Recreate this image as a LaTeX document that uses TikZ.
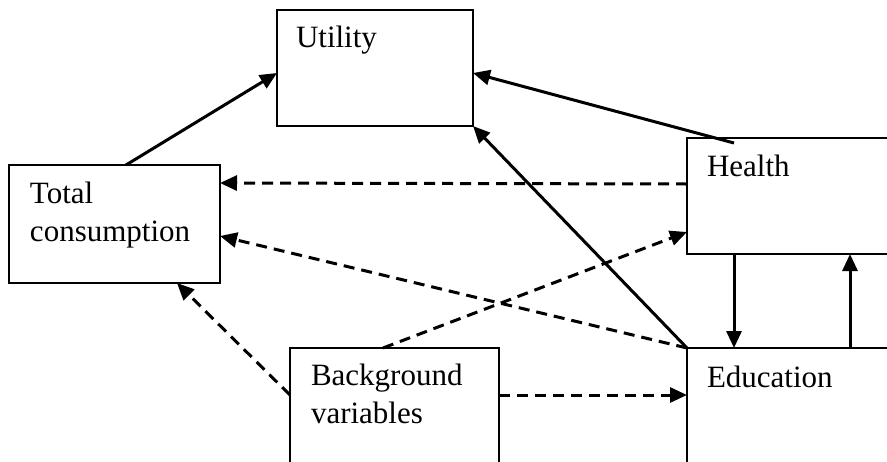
\documentclass[tikz,border=0pt]{standalone}
\usepackage{fontspec}
\setmainfont{Liberation Serif}
\usetikzlibrary{arrows.meta,calc}
\begin{document}
\begin{tikzpicture}[x=1pt,y=-1pt,
  box/.style={draw,line width=2.8pt,rectangle,inner sep=0pt,outer sep=0pt,anchor=north west},
  lbl/.style={inner sep=0pt,outer sep=0pt,font=\fontsize{31}{37.5}\selectfont,align=left},
  conn/.style={line width=3pt,-{Triangle[length=17pt,width=15pt]}},
  dconn/.style={conn,dash pattern=on 11pt off 7pt}]
\useasboundingbox (0,0) rectangle (887,461);
% boxes
\node[box,minimum width=196pt,minimum height=116pt] (util) at (277,10) {};
\node[box,minimum width=211pt,minimum height=118pt] (tc) at (9,165) {};
\node[box,minimum width=263pt,minimum height=116pt] (health) at (687,138) {};
\node[box,minimum width=263pt,minimum height=160pt] (edu) at (687,348) {};
\node[box,minimum width=209pt,minimum height=160pt] (bg) at (290,348) {};
% labels
\node[lbl,anchor=base west] (tutil) at (296,47) {Utility};
\node[lbl,anchor=base west] (thealth) at (707,176) {Health};
\node[lbl,anchor=base west] (tedu) at (707,387) {Education};
\node[lbl,anchor=north west] (ttc) at (30,182) {Total\\consumption};
\node[lbl,anchor=north west] (tbg) at (311,364) {Background\\variables};
% solid connectors
\draw[conn] ($(tc.north west)+(117,0)$) -- ($(util.north west)+(0,63)$);
\draw[conn] ($(health.north west)+(47,5)$) -- ($(util.north east)+(0,63)$);
\draw[conn] (edu.north west) -- (util.south east);
\draw[conn] ($(health.south west)+(47,0)$) -- ($(edu.north west)+(47,0)$);
\draw[conn] ($(edu.north west)+(163,0)$) -- ($(health.south west)+(163,0)$);
% dashed connectors
\draw[dconn] ($(health.north west)+(0,46)$) -- ($(tc.north east)+(0,18)$);
\draw[dconn] (edu.north west) -- ($(tc.north east)+(0,71)$);
\draw[dconn] ($(bg.north west)+(93,0)$) -- ($(health.north west)+(0,94)$);
\draw[dconn] ($(bg.north west)+(0,47)$) -- ($(tc.south west)+(168,0)$);
\draw[dconn] ($(bg.north east)+(0,47)$) -- ($(edu.north west)+(0,47)$);
\end{tikzpicture}
\end{document}
